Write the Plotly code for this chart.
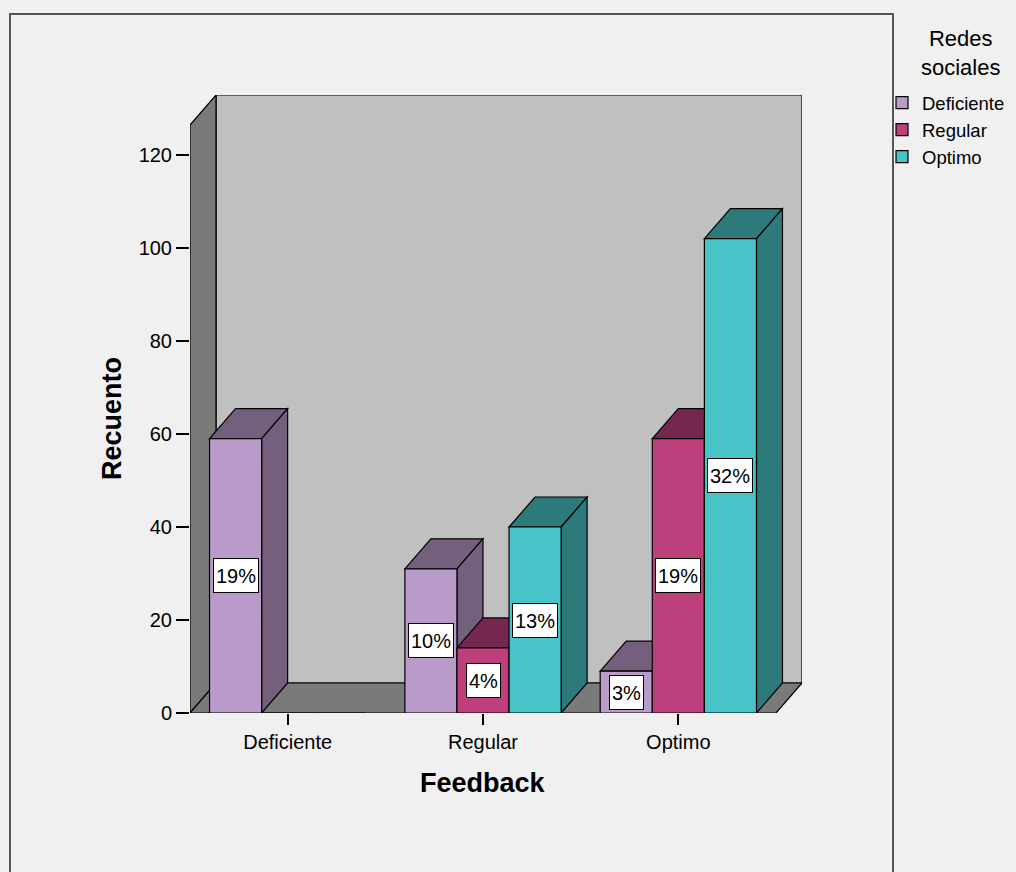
import plotly.graph_objects as go

# Feedback categories (x axis) and Redes sociales levels (series)
categories = ["Deficiente", "Regular", "Optimo"]
series_names = ["Deficiente", "Regular", "Optimo"]

# Recuento per Feedback category, one list per Redes sociales level
deficiente = [59, 31, 9]
regular = [0, 14, 59]
optimo = [0, 40, 102]

y_ticks = [0, 20, 40, 60, 80, 100, 120]

series_values = [deficiente, regular, optimo]
front_colors = ["#b89bc9", "#bd407c", "#48c3c8"]
shade_colors = ["#74607c", "#742850", "#2c7a7a"]

FONT = "Liberation Sans, Arial, sans-serif"

# ---- page / 3D box geometry (pixels) ----
W, H = 1016, 872
X0_PX = 190          # left edge of the front plane
FRONT_W_PX = 586     # width of the front plane
DEPTH_X_PX = 26      # depth offset to the right
DEPTH_Y_PX = 30      # depth offset upwards
Y0_PX = 713          # baseline (value 0) on the front plane
PX_PER_UNIT = 4.65   # vertical pixels per count
TOP_PX = 95          # top of the back wall

n_cat = len(categories)
px_per_cat = FRONT_W_PX / n_cat
x_lo, x_front_hi = -0.5, n_cat - 0.5
DX = DEPTH_X_PX / px_per_cat
DY = DEPTH_Y_PX / PX_PER_UNIT
x_hi = x_front_hi + DX
y_hi = (Y0_PX - TOP_PX) / PX_PER_UNIT
wall_top = y_hi - DY

plot_w = FRONT_W_PX + DEPTH_X_PX
plot_h = Y0_PX - TOP_PX


def paper_x(px):
    return (px - X0_PX) / plot_w


def paper_y(py):
    return (Y0_PX - py) / plot_h


def poly(points):
    return "M " + " L ".join(f"{x},{y}" for x, y in points) + " Z"


total = sum(sum(v) for v in series_values)
group_w = 0.8
bar_w = group_w / len(series_values)

fig = go.Figure()
shapes = []
annotations = []

# outer chart frame
shapes.append(dict(type="rect", xref="paper", yref="paper",
                   x0=paper_x(10), x1=paper_x(893), y0=paper_y(890), y1=paper_y(14),
                   fillcolor="#f0f0f0", line=dict(color="#555555", width=2), layer="below"))

# back wall, left wall and floor of the 3D box
edge = dict(color="black", width=1.2)
shapes.append(dict(type="rect", xref="x", yref="y", x0=x_lo + DX, x1=x_front_hi + DX,
                   y0=DY, y1=wall_top + DY, fillcolor="#c0c0c0", line=edge, layer="below"))
shapes.append(dict(type="path", xref="x", yref="y",
                   path=poly([(x_lo, 0), (x_lo, wall_top), (x_lo + DX, wall_top + DY), (x_lo + DX, DY)]),
                   fillcolor="#7a7a7a", line=edge, layer="below"))
shapes.append(dict(type="path", xref="x", yref="y",
                   path=poly([(x_lo, 0), (x_front_hi, 0), (x_front_hi + DX, DY), (x_lo + DX, DY)]),
                   fillcolor="#7a7a7a", line=edge, layer="below"))

# front faces of the bars
x_pos = list(range(n_cat))
for s, (name, vals) in enumerate(zip(series_names, series_values)):
    off = -group_w / 2 + s * bar_w
    fig.add_trace(go.Bar(
        x=x_pos, y=vals, name=name, width=bar_w, offset=off,
        marker=dict(color=front_colors[s], line=dict(color="black", width=1.2)),
        hoverinfo="skip",
    ))

# top and right-side faces, drawn left to right so nearer bars overlap
for c in range(n_cat):
    for s, vals in enumerate(series_values):
        v = vals[c]
        if v <= 0:
            continue
        left = c - group_w / 2 + s * bar_w
        right = left + bar_w
        shapes.append(dict(type="path", xref="x", yref="y",
                           path=poly([(left, v), (right, v), (right + DX, v + DY), (left + DX, v + DY)]),
                           fillcolor=shade_colors[s], line=edge, layer="below"))
        shapes.append(dict(type="path", xref="x", yref="y",
                           path=poly([(right, 0), (right, v), (right + DX, v + DY), (right + DX, DY)]),
                           fillcolor=shade_colors[s], line=edge, layer="below"))
        pct = round(v / total * 100)
        annotations.append(dict(x=left + bar_w / 2, y=v / 2, xref="x", yref="y",
                                xanchor="center", yanchor="middle",
                                text=f"{pct}%", showarrow=False, height=29,
                                bgcolor="white", bordercolor="black", borderwidth=1, borderpad=2,
                                font=dict(family=FONT, size=20, color="black")))

# axis titles
annotations.append(dict(x=paper_x(112), y=wall_top / 2, xref="paper", yref="y",
                        xanchor="center", yanchor="middle",
                        text="<b>Recuento</b>", textangle=-90, showarrow=False,
                        font=dict(family=FONT, size=27, color="black")))
annotations.append(dict(x=(x_lo + x_front_hi) / 2, y=paper_y(783), xref="x", yref="paper",
                        xanchor="center", yanchor="middle",
                        text="<b>Feedback</b>", showarrow=False,
                        font=dict(family=FONT, size=27, color="black")))

# legend title
annotations.append(dict(x=paper_x(960), y=paper_y(53), xref="paper", yref="paper",
                        xanchor="center", yanchor="middle", align="center",
                        text="Redes<br>sociales", showarrow=False,
                        font=dict(family=FONT, size=22, color="black")))

fig.update_layout(
    width=W, height=H, autosize=False,
    margin=dict(l=X0_PX, r=W - X0_PX - plot_w, t=TOP_PX, b=H - Y0_PX, autoexpand=False),
    paper_bgcolor="#f0f0f0", plot_bgcolor="rgba(0,0,0,0)",
    barmode="overlay",
    font=dict(family=FONT, size=20, color="black"),
    shapes=shapes, annotations=annotations,
    xaxis=dict(range=[x_lo, x_hi], tickvals=x_pos, ticktext=categories,
               ticks="outside", ticklen=11, tickwidth=1.5, tickcolor="black",
               showgrid=False, zeroline=False, showline=False, fixedrange=True,
               tickfont=dict(family=FONT, size=20)),
    yaxis=dict(range=[0, y_hi], tickvals=y_ticks, ticks="outside", ticklen=13,
               tickwidth=1.5, tickcolor="black", showgrid=False, zeroline=False,
               showline=False, fixedrange=True, tickfont=dict(family=FONT, size=20)),
    legend=dict(x=paper_x(882), y=paper_y(84), xanchor="left", yanchor="top",
                font=dict(family=FONT, size=18.5), bgcolor="rgba(0,0,0,0)",
                tracegroupgap=0, itemclick=False, itemdoubleclick=False),
    showlegend=True,
)

fig.write_html("out.html")
